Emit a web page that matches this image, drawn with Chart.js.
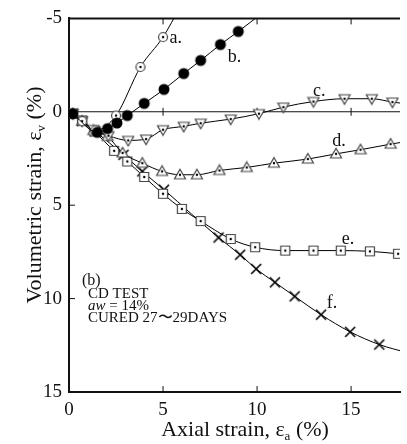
<!DOCTYPE html>
<html>
<head>
<meta charset="utf-8">
<script src="https://cdn.jsdelivr.net/npm/chart.js@4.4.1/dist/chart.umd.min.js"></script>
<style>
  html, body { margin: 0; padding: 0; background: #fff; }
  #wrap { width: 407px; height: 444px; }
</style>
</head>
<body>
<div id="wrap"><canvas id="strainChart" width="407" height="444"></canvas></div>
<script>
// --- data: [axial strain, volumetric strain] ---
const curveA = [[0.2,0.1],[0.7,0.5],[1.4,1.0],[2.5,0.2],[3.8,-2.4],[5.0,-4.0],[5.9,-5.6]];
const curveB = [[0.2,0.1],[1.5,1.1],[2.05,0.9],[2.55,0.6],[3.1,0.2],[4.0,-0.45],[5.05,-1.2],[6.1,-2.05],[7.0,-2.75],[8.05,-3.6],[9.0,-4.3],[10.3,-5.3]];
const curveC = [[0.2,0.1],[0.7,0.5],[1.3,0.95],[2.1,1.28],[3.15,1.53],[4.1,1.46],[5.0,0.96],[6.1,0.78],[7.0,0.61],[8.6,0.39],[10.1,0.1],[11.4,-0.25],[13.0,-0.55],[14.65,-0.7],[16.1,-0.7],[17.2,-0.52],[18.2,-0.4]];
const curveD = [[0.2,0.1],[0.7,0.5],[1.3,1.0],[2.05,1.32],[2.85,2.2],[3.9,2.75],[4.95,3.19],[5.9,3.37],[6.8,3.37],[8.0,3.14],[9.45,2.98],[10.9,2.75],[12.7,2.53],[14.2,2.25],[15.5,2.03],[17.1,1.73],[18.2,1.55]];
const curveE = [[0.2,0.1],[0.7,0.46],[1.35,1.05],[2.4,2.09],[3.1,2.66],[4.0,3.49],[5.0,4.39],[6.0,5.2],[7.0,5.85],[8.6,6.81],[9.9,7.25],[11.5,7.43],[13.0,7.43],[14.45,7.43],[16.0,7.47],[17.5,7.6]];
const curveF = [[0.2,0.1],[0.7,0.5],[1.4,1.05],[2.9,2.3],[3.9,3.19],[5.05,4.17],[7.95,6.73],[9.1,7.65],[9.95,8.41],[10.95,9.13],[12.0,9.88],[13.4,10.86],[14.95,11.78],[16.5,12.46],[18.0,12.9]];

const xTicks = [0, 5, 10, 15];
const yTicks = [-5, 0, 5, 10, 15];

// curve labels: [text, x, y]
const curveLabels = [['a.',5.35,-3.95],['b.',8.44,-2.9],['c.',12.97,-1.12],['d.',14.0,1.6],['e.',14.5,6.85],['f.',13.7,10.27]];

const SERIF = "'Liberation Serif', 'Times New Roman', serif";

// --- markers ---
function makeMarker(kind) {
  const c = document.createElement('canvas');
  c.width = 14; c.height = 14;
  const g = c.getContext('2d');
  const m = 7;
  g.lineWidth = 1.2;
  g.strokeStyle = '#444';
  g.fillStyle = '#fff';
  if (kind === 'disc') {
    g.fillStyle = '#000';
    g.beginPath(); g.arc(m, m, 5.5, 0, Math.PI * 2); g.fill();
    return c;
  }
  if (kind === 'cross') {
    g.strokeStyle = '#000'; g.lineWidth = 1.6;
    g.beginPath();
    g.moveTo(m - 5, m - 5); g.lineTo(m + 5, m + 5);
    g.moveTo(m + 5, m - 5); g.lineTo(m - 5, m + 5);
    g.stroke();
    return c;
  }
  g.beginPath();
  if (kind === 'circ') g.arc(m, m, 4.5, 0, Math.PI * 2);
  if (kind === 'sq') g.rect(m - 4.5, m - 4.5, 9, 9);
  if (kind === 'triUp') { g.moveTo(m, m - 5.5); g.lineTo(m + 5.5, m + 4); g.lineTo(m - 5.5, m + 4); g.closePath(); }
  if (kind === 'triDown') { g.moveTo(m, m + 5.5); g.lineTo(m + 5.5, m - 4); g.lineTo(m - 5.5, m - 4); g.closePath(); }
  g.fill(); g.stroke();
  g.fillStyle = '#000';
  g.beginPath(); g.arc(m, m, 1.2, 0, Math.PI * 2); g.fill();
  return c;
}

function series(data, kind, order) {
  return {
    data: data.map(p => ({ x: p[0], y: p[1] })),
    borderColor: '#000',
    borderWidth: 1,
    pointStyle: makeMarker(kind),
    pointRadius: 6,
    cubicInterpolationMode: 'monotone',
    order: order
  };
}

// --- frame, zero line, inward ticks ---
const framePlugin = {
  id: 'frame',
  beforeDatasetsDraw(chart) {
    const { ctx, chartArea: a, scales: { x, y } } = chart;
    ctx.save();
    ctx.strokeStyle = '#111';
    ctx.lineWidth = 2;
    ctx.beginPath(); ctx.moveTo(a.left, a.top); ctx.lineTo(a.right, a.top); ctx.stroke();
    const y0 = y.getPixelForValue(0);
    ctx.lineWidth = 1.1;
    ctx.beginPath(); ctx.moveTo(a.left, y0); ctx.lineTo(a.right, y0); ctx.stroke();
    ctx.lineWidth = 1;
    xTicks.slice(1).forEach(v => {
      const px = x.getPixelForValue(v);
      ctx.beginPath();
      ctx.moveTo(px, a.bottom); ctx.lineTo(px, a.bottom - 6);
      ctx.moveTo(px, a.top); ctx.lineTo(px, a.top + 6);
      ctx.moveTo(px, y0 - 4); ctx.lineTo(px, y0 + 4);
      ctx.stroke();
    });
    yTicks.slice(1, -1).forEach(v => {
      const py = y.getPixelForValue(v);
      ctx.beginPath(); ctx.moveTo(a.left, py); ctx.lineTo(a.left + 6, py); ctx.stroke();
    });
    ctx.restore();
  },
  afterDraw(chart) {
    const { ctx, scales: { x, y } } = chart;
    ctx.save();
    ctx.fillStyle = '#111';
    ctx.textBaseline = 'middle';
    ctx.font = `18px ${SERIF}`;
    curveLabels.forEach(([t, vx, vy]) => ctx.fillText(t, x.getPixelForValue(vx), y.getPixelForValue(vy)));

    // test conditions
    ctx.textBaseline = 'alphabetic';
    ctx.font = `16px ${SERIF}`;
    ctx.fillText('(b)', 82, 285);
    ctx.font = `15px ${SERIF}`;
    ctx.fillText('CD TEST', 88, 298);
    ctx.font = `italic 15px ${SERIF}`;
    ctx.fillText('aw', 88, 310);
    const aw = ctx.measureText('aw').width;
    ctx.font = `15px ${SERIF}`;
    ctx.fillText(' = 14%', 88 + aw, 310);
    ctx.fillText('CURED 27\u301C29DAYS', 88, 322);

    // axis titles with subscripts
    function subText(parts, x0, base, draw) {
      let cx = x0;
      parts.forEach(([t, sub]) => {
        ctx.font = sub ? `13px ${SERIF}` : `22px ${SERIF}`;
        if (draw) ctx.fillText(t, cx, sub ? base + 4 : base);
        cx += ctx.measureText(t).width;
      });
      return cx - x0;
    }
    const xParts = [['Axial strain, \u03B5', false], ['a', true], [' (%)', false]];
    const xw = subText(xParts, 0, 0, false);
    subText(xParts, 245 - xw / 2, 436, true);

    const yParts = [['Volumetric strain, \u03B5', false], ['v', true], [' (%)', false]];
    const yw = subText(yParts, 0, 0, false);
    ctx.translate(41, 195);
    ctx.rotate(-Math.PI / 2);
    subText(yParts, -yw / 2, 0, true);
    ctx.restore();
  }
};

new Chart(document.getElementById('strainChart'), {
  type: 'line',
  data: {
    datasets: [
      series(curveA, 'circ', 2),
      series(curveB, 'disc', 1),
      series(curveC, 'triDown', 3),
      series(curveD, 'triUp', 4),
      series(curveE, 'sq', 5),
      series(curveF, 'cross', 6)
    ]
  },
  options: {
    responsive: false,
    animation: false,
    events: [],
    layout: { padding: { top: 16, left: 0, right: 0, bottom: 0 } },
    plugins: { legend: { display: false }, tooltip: { enabled: false } },
    scales: {
      x: {
        type: 'linear',
        min: 0,
        max: 17.6,
        afterBuildTicks: s => { s.ticks = xTicks.map(v => ({ value: v })); },
        afterFit: s => { s.height = 52; },
        grid: { drawOnChartArea: false, drawTicks: false, color: 'rgba(0,0,0,0)' },
        border: { display: true, color: '#111', width: 2 },
        ticks: { color: '#111', font: { family: SERIF, size: 19 }, padding: 7, maxRotation: 0 }
      },
      y: {
        type: 'linear',
        min: -5,
        max: 15,
        reverse: true,
        afterBuildTicks: s => { s.ticks = yTicks.map(v => ({ value: v })); },
        afterFit: s => { s.width = 69; },
        grid: { drawOnChartArea: false, drawTicks: false, color: 'rgba(0,0,0,0)' },
        border: { display: true, color: '#111', width: 2 },
        ticks: { color: '#111', font: { family: SERIF, size: 19 }, padding: 7 }
      }
    }
  },
  plugins: [framePlugin]
});
</script>
</body>
</html>
